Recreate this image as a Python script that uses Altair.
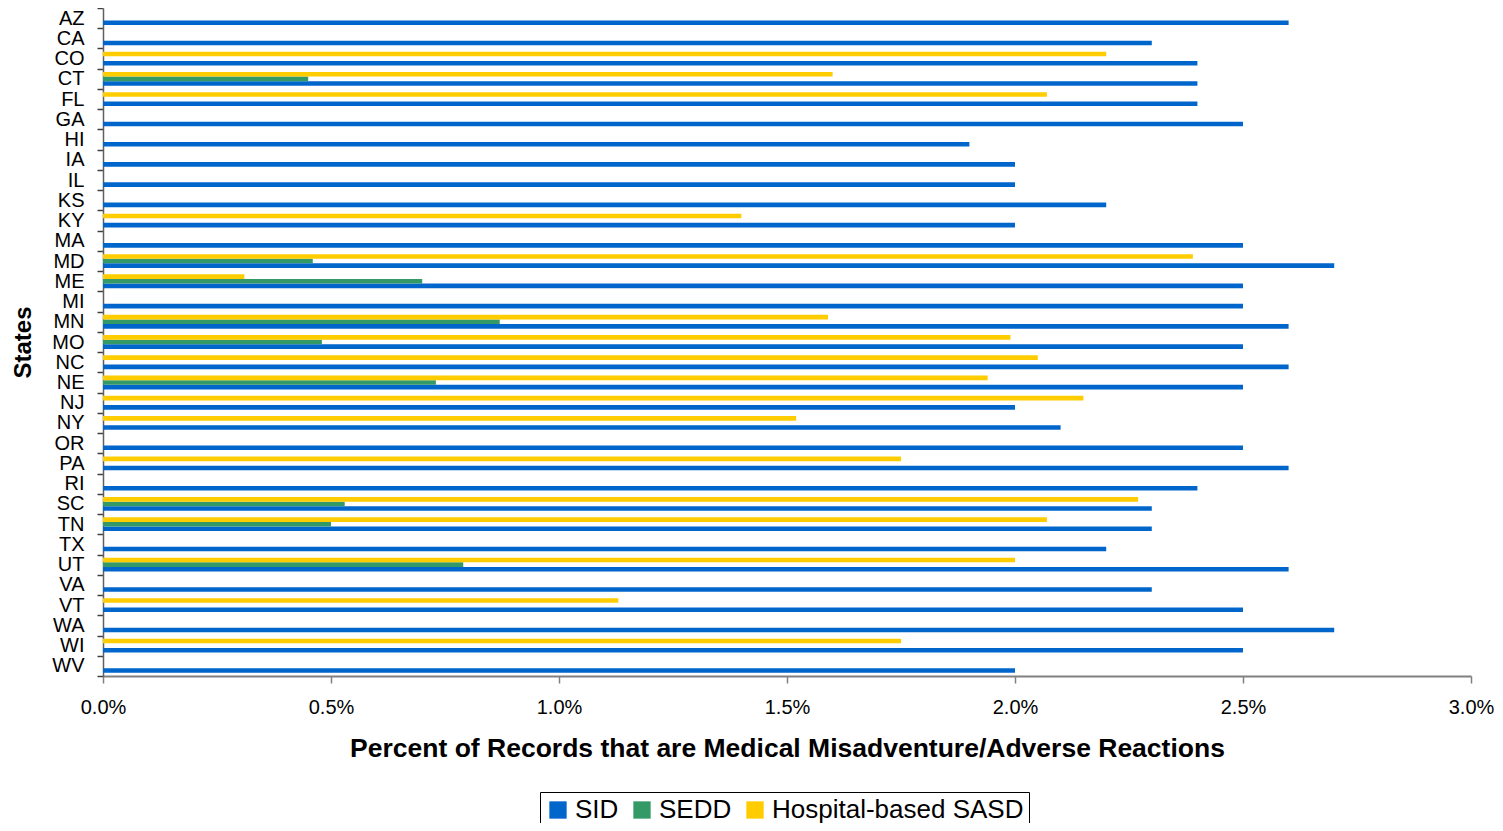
import altair as alt
import pandas as pd

states = ["AZ", "CA", "CO", "CT", "FL", "GA", "HI", "IA", "IL", "KS", "KY", "MA",
          "MD", "ME", "MI", "MN", "MO", "NC", "NE", "NJ", "NY", "OR", "PA", "RI",
          "SC", "TN", "TX", "UT", "VA", "VT", "WA", "WI", "WV"]
sid = [2.6, 2.3, 2.4, 2.4, 2.4, 2.5, 1.9, 2.0, 2.0, 2.2, 2.0, 2.5,
       2.7, 2.5, 2.5, 2.6, 2.5, 2.6, 2.5, 2.0, 2.1, 2.5, 2.6, 2.4,
       2.3, 2.3, 2.2, 2.6, 2.3, 2.5, 2.7, 2.5, 2.0]
sedd = [None, None, None, 0.45, None, None, None, None, None, None, None, None,
        0.46, 0.70, None, 0.87, 0.48, None, 0.73, None, None, None, None, None,
        0.53, 0.50, None, 0.79, None, None, None, None, None]
sasd = [None, None, 2.2, 1.6, 2.07, None, None, None, None, None, 1.4, None,
        2.39, 0.31, None, 1.59, 1.99, 2.05, 1.94, 2.15, 1.52, None, 1.75, None,
        2.27, 2.07, None, 2.0, None, 1.13, None, 1.75, None]

series_names = ["SID", "SEDD", "Hospital-based SASD"]
series_colors = ["#0066CC", "#339966", "#FFCC00"]
x_ticks = [0, 0.5, 1.0, 1.5, 2.0, 2.5, 3.0]

rows = []
for name, vals in zip(series_names, [sid, sedd, sasd]):
    for st, v in zip(states, vals):
        if v is not None:
            rows.append({"state": st, "series": name, "value": v})
df = pd.DataFrame(rows)

FONT = "Liberation Sans"

chart = alt.Chart(df).mark_bar().encode(
    x=alt.X("value:Q",
            scale=alt.Scale(domain=[0, 3], nice=False, zero=True),
            axis=alt.Axis(values=x_ticks,
                          labelExpr="format(datum.value, '.1f') + '%'",
                          labelFlush=False, labelOverlap=False,
                          grid=False, tickSize=7, labelPadding=14,
                          labelFontSize=20, labelFont=FONT, labelColor="black",
                          domainColor="#808080", domainWidth=2,
                          tickColor="#808080", tickWidth=1.5,
                          title="Percent of Records that are Medical Misadventure/Adverse Reactions",
                          titleFont=FONT, titleFontSize=26.5, titleFontWeight="bold",
                          titleColor="black", titleX=684, titleY=59,
                          titleAlign="center", titleBaseline="top")),
    y=alt.Y("state:N", sort=states,
            scale=alt.Scale(paddingInner=0, paddingOuter=0),
            axis=alt.Axis(tickBand="extent", tickSize=6, labelPadding=13,
                          labelFontSize=20, labelFont=FONT, labelColor="black",
                          domainColor="#606060", domainWidth=1.5,
                          tickColor="#404040", tickWidth=1.5,
                          title="States", titleFont=FONT, titleFontSize=24,
                          titleFontWeight="bold", titleColor="black",
                          titleAngle=270, titleX=-80, titleY=334,
                          titleAlign="center", titleBaseline="middle")),
    yOffset=alt.YOffset("series:N", sort=["Hospital-based SASD", "SEDD", "SID"],
                        scale=alt.Scale(paddingInner=0, paddingOuter=0.7)),
    color=alt.Color("series:N",
                    scale=alt.Scale(domain=series_names, range=series_colors),
                    legend=alt.Legend(orient="none", legendX=437, legendY=784,
                                      direction="horizontal", title=None,
                                      symbolType="square", symbolSize=300,
                                      symbolStrokeWidth=0, symbolOpacity=1,
                                      labelFontSize=26, labelFont=FONT,
                                      labelLimit=500,
                                      labelColor="black", labelOffset=4,
                                      columnPadding=10, padding=5,
                                      strokeColor="black", fillColor="white")),
).properties(
    width=1368,
    height=668,
    padding={"left": 95, "top": 0, "right": 24, "bottom": 147},
    autosize=alt.AutoSizeParams(type="none"),
    background="white",
).configure_view(strokeWidth=0, stroke="transparent")

chart.save("out.html", embed_options={"renderer": "svg", "actions": False})
